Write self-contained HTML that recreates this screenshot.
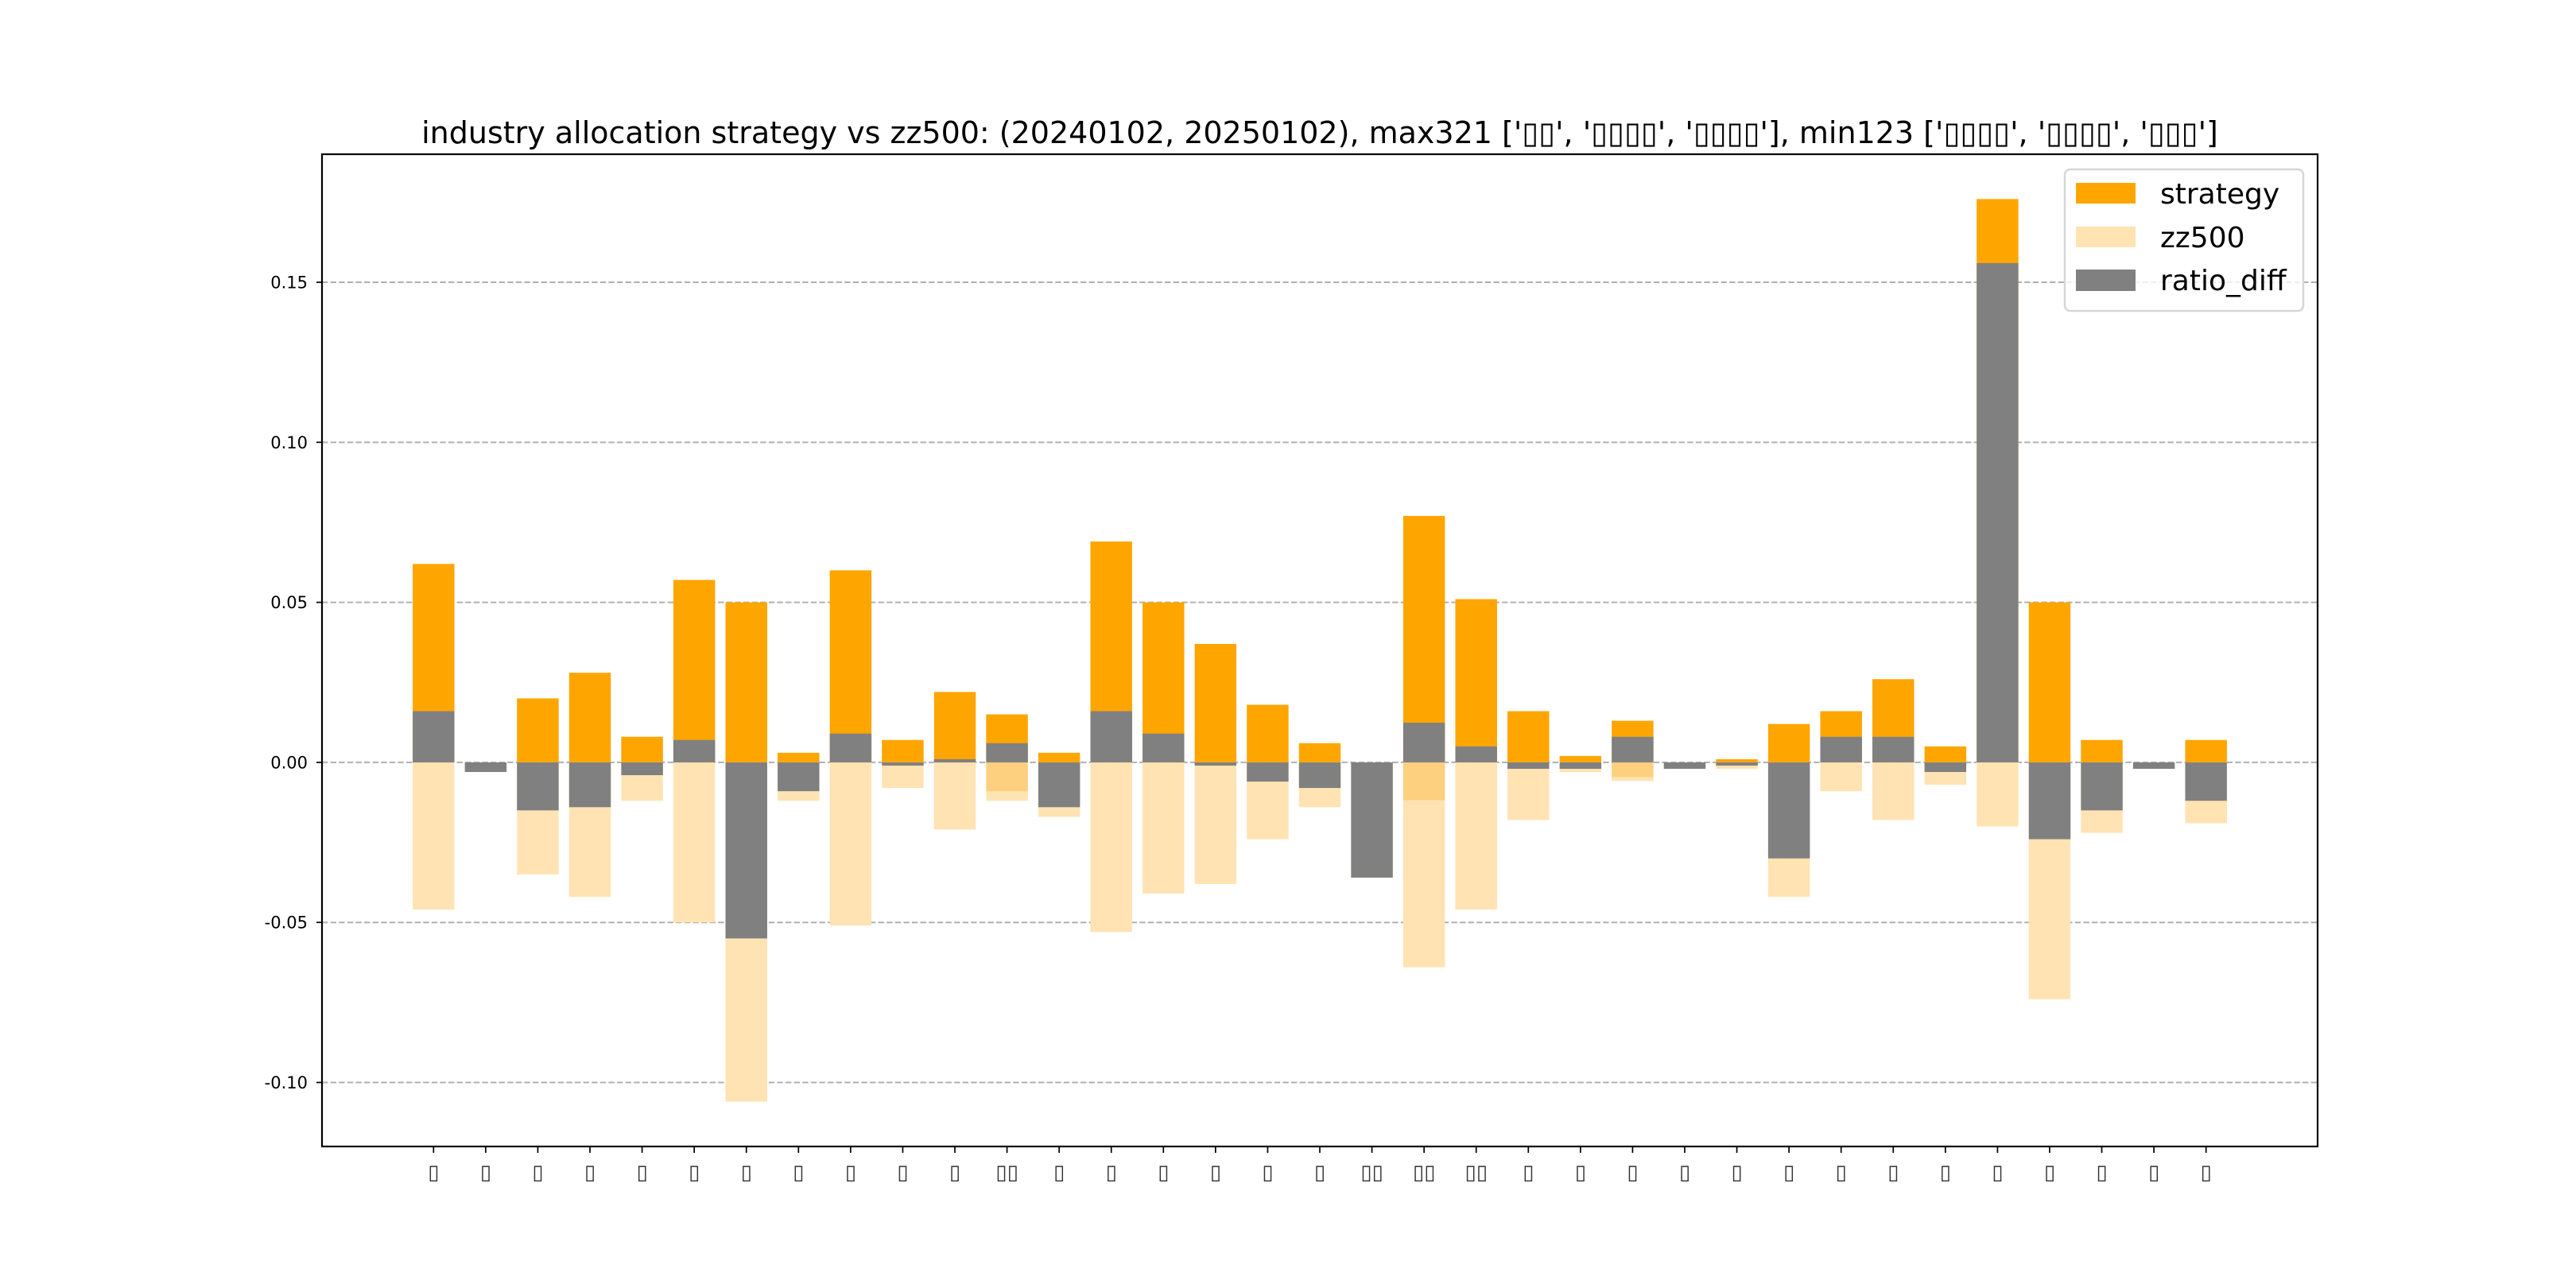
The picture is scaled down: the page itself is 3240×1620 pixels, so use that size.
<!DOCTYPE html>
<html><head><meta charset="utf-8"><style>
html,body{margin:0;padding:0;background:#fff;}
svg{display:block;font-family:"DejaVu Sans","Liberation Sans","Noto Sans CJK SC",sans-serif;}
</style></head>
<body>
<svg id="chart" width="3240" height="1620" viewBox="0 0 3240 1620" xmlns="http://www.w3.org/2000/svg">
<rect x="0" y="0" width="3240" height="1620" fill="#fff"/>
<text x="1660" y="180" font-size="38" text-anchor="middle" fill="#000">industry allocation strategy vs zz500: (20240102, 20250102), max321 ['▯▯', '▯▯▯▯', '▯▯▯▯'], min123 ['▯▯▯▯', '▯▯▯▯', '▯▯▯']</text>
<g id="grid"></g>
<g id="bars"></g>
<g id="axes"></g>
<g>
<rect x="2597" y="213" width="300" height="178" rx="7" fill="#fff" fill-opacity="0.8" stroke="#d6d6d6" stroke-width="2.5"/>
<rect x="2611" y="230" width="75" height="26" fill="#ffa500"/>
<text x="2717" y="256" font-size="36">strategy</text>
<rect x="2611" y="285" width="75" height="26" fill="#ffe3b3"/>
<text x="2717" y="311" font-size="36">zz500</text>
<rect x="2611" y="339" width="75" height="27" fill="#808080"/>
<text x="2717" y="365" font-size="36">ratio_diff</text>
</g>
</svg>
<script>
const categories = ['▯','▯','▯','▯','▯','▯','▯','▯','▯','▯','▯','▯▯','▯','▯','▯','▯','▯','▯','▯▯','▯▯','▯▯','▯','▯','▯','▯','▯','▯','▯','▯','▯','▯','▯','▯','▯','▯'];
const strategyValues = [0.062,0,0.020,0.028,0.008,0.057,0.050,0.003,0.060,0.007,0.022,0.015,0.003,0.069,0.050,0.037,0.018,0.006,0,0.077,0.051,0.016,0.002,0.013,0,0.001,0.012,0.016,0.026,0.005,0.176,0.050,0.007,0,0.007];
const zz500Values = [-0.046,-0.003,-0.035,-0.042,-0.012,-0.050,-0.106,-0.012,-0.051,-0.008,-0.021,-0.012,-0.017,-0.053,-0.041,-0.038,-0.024,-0.014,-0.036,-0.064,-0.046,-0.018,-0.003,-0.0058,-0.002,-0.002,-0.042,-0.009,-0.018,-0.007,-0.020,-0.074,-0.022,-0.002,-0.019];
const overlapValues = [0,0,0,0,0,0,0,0,0,0,0,-0.009,0,0,0,0,0,0,0,-0.0118,0,0,0,-0.0046,0,-0.001,0,0,0,0,0,0,0,0,0];
const diffValues = [0.016,-0.003,-0.015,-0.014,-0.004,0.007,-0.055,-0.009,0.009,-0.001,0.001,0.006,-0.014,0.016,0.009,-0.001,-0.006,-0.008,-0.036,0.0124,0.005,-0.002,-0.002,0.008,-0.002,-0.001,-0.030,0.008,0.008,-0.003,0.156,-0.024,-0.015,-0.002,-0.012];
const yTicks = [-0.10,-0.05,0.00,0.05,0.10,0.15];
const yTickLabels = ['-0.10','-0.05','0.00','0.05','0.10','0.15'];

const NS='http://www.w3.org/2000/svg';
const L=405,R=2915,T=194,B=1442;
const yMin=-0.12,yMax=0.19;
const n=categories.length;
const xlo=-0.4-(n-1+0.8)*0.05, xhi=(n-1)+0.4+(n-1+0.8)*0.05;
function xScale(v){return L+(v-xlo)/(xhi-xlo)*(R-L);}
function yScale(v){return B-(v-yMin)/(yMax-yMin)*(B-T);}
function mk(tag,attrs,parent){const e=document.createElementNS(NS,tag);for(const k in attrs)e.setAttribute(k,attrs[k]);parent.appendChild(e);return e;}
const grid=document.getElementById('grid'),bars=document.getElementById('bars'),axes=document.getElementById('axes');
yTicks.forEach((t,i)=>{
  const y=yScale(t);
  const g=mk('line',{x1:L,x2:R,y1:y,y2:y,stroke:'#b0b0b0','stroke-width':2,'stroke-dasharray':'7.4,3.2'},grid);
  
  
  const tk=mk('line',{x1:L-7,x2:L,y1:y,y2:y,stroke:'#000','stroke-width':1.7},axes);
  
  
  const tx=mk('text',{x:L-18,y:y+7.5,'font-size':21,'text-anchor':'end',fill:'#000'},axes);
  tx.textContent=yTickLabels[i];
  
  
});
function bar(i,v,color,name){
  if(!v)return;
  const x0=xScale(i-0.4),x1=xScale(i+0.4);
  const y0=yScale(0),y1=yScale(v);
  const r=mk('rect',{x:x0,y:Math.min(y0,y1),width:x1-x0,height:Math.abs(y1-y0),fill:color},bars);
  
  
}
for(let i=0;i<n;i++){
  bar(i,strategyValues[i],'#ffa500','strategy-bar');
  bar(i,zz500Values[i],'#ffe3b3','zz500-bar');
  bar(i,overlapValues[i],'#fdd080','overlap-bar');
  bar(i,diffValues[i],'#808080','ratio-diff-bar');
  const x=xScale(i);
  const tk=mk('line',{x1:x,x2:x,y1:B,y2:B+8,stroke:'#000','stroke-width':1.7},axes);
  
  
  const tx=mk('text',{x:x,y:B+41,'font-size':26,'text-anchor':'middle',fill:'#333'},axes);
  tx.textContent=categories[i];
  
  
}
const frame=mk('rect',{x:L,y:T,width:R-L,height:B-T,fill:'none',stroke:'#000','stroke-width':2.2},axes);


</script>
</body></html>
